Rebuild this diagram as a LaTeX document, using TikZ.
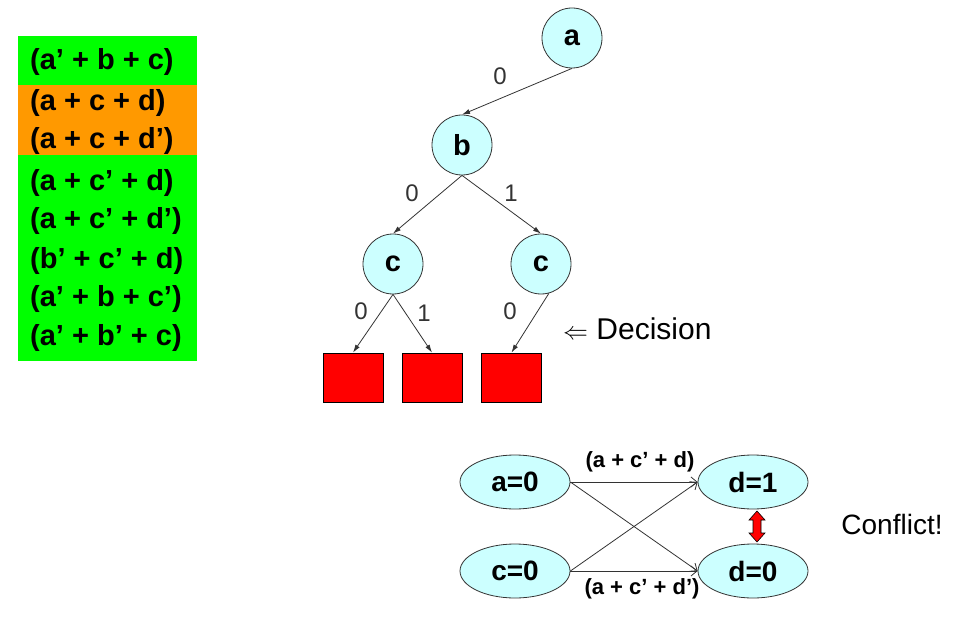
\documentclass[tikz,border=0pt]{standalone}
\usepackage{fontspec}
\setmainfont{Liberation Sans}
\usetikzlibrary{arrows.meta,shapes.geometric}
\definecolor{cgreen}{HTML}{00FF00}
\definecolor{corange}{HTML}{FF9900}
\definecolor{ccyan}{HTML}{CCFFFF}
\definecolor{cred}{HTML}{FF0000}
\definecolor{cline}{HTML}{333333}
\begin{document}
\begin{tikzpicture}[x=1pt,y=-1pt,
  clause/.style={anchor=west,inner sep=0pt,font=\fontsize{29}{31}\selectfont\bfseries},
  var/.style={circle,draw=cline,line width=0.8pt,fill=ccyan,minimum size=60pt,inner sep=0pt,font=\fontsize{29}{31}\selectfont\bfseries},
  leaf/.style={rectangle,draw=black,line width=0.8pt,fill=cred,minimum width=60pt,minimum height=49pt,inner sep=0pt},
  asg/.style={ellipse,draw=cline,line width=0.8pt,fill=ccyan,minimum width=110pt,minimum height=54pt,inner sep=0pt,font=\fontsize{28}{30}\selectfont\bfseries},
  elab/.style={inner sep=0pt,text=cline,font=\fontsize{24}{26}\selectfont},
  clab/.style={inner sep=0pt,font=\fontsize{22}{24}\selectfont\bfseries},
  tarrow/.style={draw=cline,line width=0.8pt,-{Latex[length=8pt,width=5pt]}},
  iarrow/.style={draw=cline,line width=0.8pt,-{Straight Barb[length=6pt,width=10pt]}}]
\useasboundingbox (0,0) rectangle (960,628);
% clause list
\fill[cgreen] (18,36) rectangle (197,361);
\fill[corange] (18,85) rectangle (197,155);
\node[clause] (k1) at (30,62) {(a’ + b + c)};
\node[clause] (k2) at (30,103) {(a + c + d)};
\node[clause] (k3) at (30,141) {(a + c + d’)};
\node[clause] (k4) at (30,183) {(a + c’ + d)};
\node[clause] (k5) at (30,221) {(a + c’ + d’)};
\node[clause] (k6) at (30,261) {(b’ + c’ + d)};
\node[clause] (k7) at (30,299) {(a’ + b + c’)};
\node[clause] (k8) at (30,338) {(a’ + b’ + c)};
% decision tree
\node[var] (a) at (572,38) {a};
\node[var] (b) at (462,145) {b};
\node[var] (cl) at (393,264) {c};
\node[var] (cr) at (541,264) {c};
\node[leaf] (s1) at (353,377.5) {};
\node[leaf] (s2) at (432,377.5) {};
\node[leaf] (s3) at (511.5,377.5) {};
\draw[tarrow] (a.south) -- (b.north);
\draw[tarrow] (b.south) -- (cl.north);
\draw[tarrow] (b.south) -- (cr.north);
\draw[tarrow] (cl.south) -- (s1.north);
\draw[tarrow] (cl.south) -- (s2.north);
\draw[tarrow] (cr.-75) -- (s3.north);
\node[elab] (l1) at (500,76) {0};
\node[elab] (l2) at (412,193) {0};
\node[elab] (l3) at (511,193) {1};
\node[elab] (l4) at (361,311) {0};
\node[elab] (l5) at (424,313) {1};
\node[elab] (l6) at (510,311) {0};
\node[anchor=west,inner sep=0pt,font=\fontsize{30}{32}\selectfont] (dec) at (563,329) {$\Leftarrow$ Decision};
% implication graph
\node[asg] (a0) at (515,482) {a=0};
\node[asg] (c0) at (515,571) {c=0};
\node[asg] (d1) at (753,482) {d=1};
\node[asg] (d0) at (753,571) {d=0};
\draw[iarrow] (a0.east) -- (d1.west);
\draw[iarrow] (a0.east) -- (d0.west);
\draw[iarrow] (c0.east) -- (d1.west);
\draw[iarrow] (c0.east) -- (d0.west);
\node[clab] (t1) at (640,462) {(a + c’ + d)};
\node[clab] (t2) at (642,589) {(a + c’ + d’)};
\filldraw[fill=cred,draw=black,line width=0.6pt] (757,511) -- (765,520) -- (761,520) -- (761,533) -- (765,533) -- (757,542) -- (749,533) -- (753,533) -- (753,520) -- (749,520) -- cycle;
\node[inner sep=0pt,font=\fontsize{28}{30}\selectfont] (conf) at (892,524) {Conflict!};
\end{tikzpicture}
\end{document}
